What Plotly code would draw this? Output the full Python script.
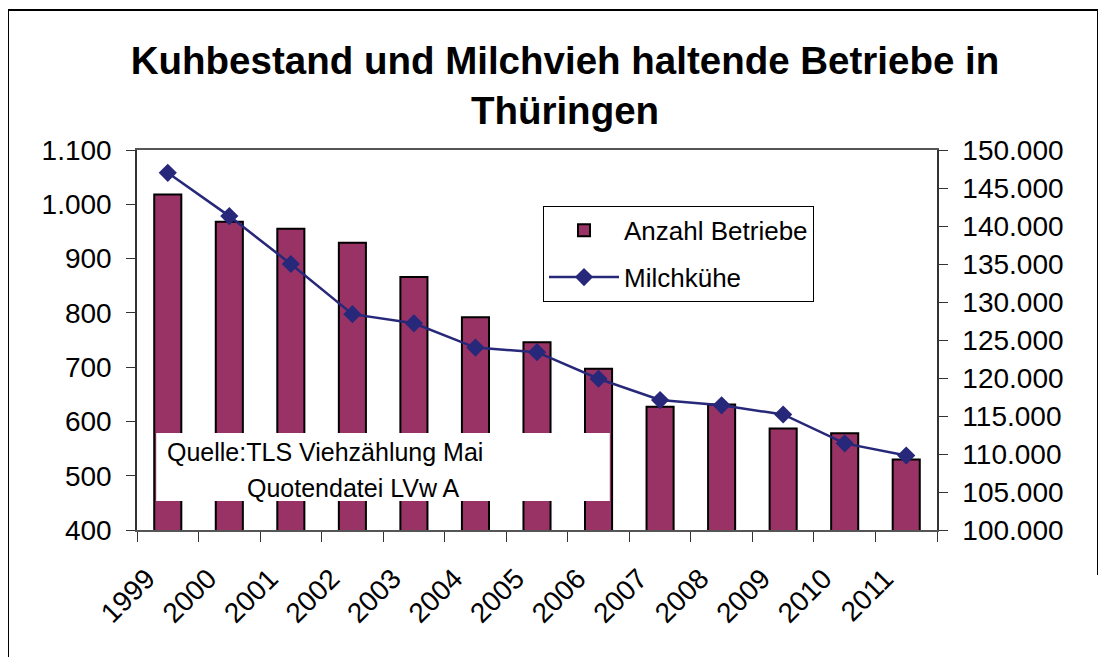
import plotly.graph_objects as go

years = ["1999", "2000", "2001", "2002", "2003", "2004", "2005",
         "2006", "2007", "2008", "2009", "2010", "2011"]
betriebe = [1018, 968, 955, 929, 866, 792, 746, 697, 627, 631, 587, 578, 530]
milchkuehe = [147000, 141300, 135000, 128400, 127200, 124000, 123400,
              119900, 117100, 116400, 115200, 111400, 109800]

left_ticks = [400, 500, 600, 700, 800, 900, 1000, 1100]
right_ticks = [100000, 105000, 110000, 115000, 120000, 125000,
               130000, 135000, 140000, 145000, 150000]

FONT = "Liberation Sans, Arial, sans-serif"
BAR_COLOR = "#993366"
LINE_COLOR = "#27287a"

fig = go.Figure()
fig.add_trace(go.Bar(
    x=years, y=betriebe, name="Anzahl Betriebe",
    marker=dict(color=BAR_COLOR, line=dict(color="black", width=2)),
    width=0.44, yaxis="y", legendgroup="a",
))
fig.add_trace(go.Scatter(
    x=years, y=milchkuehe, name="Milchkühe", mode="lines+markers",
    line=dict(color=LINE_COLOR, width=2.5),
    marker=dict(symbol="diamond", size=14, color=LINE_COLOR),
    yaxis="y2", legendgroup="b",
))

# the page body adds an 8px margin, so the figure is 8px smaller
W, H, OFF = 1098, 649, 8

fig.update_layout(
    width=W, height=H,
    margin=dict(l=129, r=169, t=142, b=127, autoexpand=False),
    paper_bgcolor="white", plot_bgcolor="white",
    separators=",.",
    font=dict(family=FONT, size=28, color="black"),
    showlegend=True,
    title=dict(
        text="<b>Kuhbestand und Milchvieh haltende Betriebe in<br>Thüringen</b>",
        x=(565 - OFF) / W, xanchor="center", y=1 - (74 - OFF) / H, yanchor="middle",
        font=dict(family=FONT, size=38.5, color="black"),
    ),
    legend=dict(
        x=0.5075, y=0.853, xanchor="left", yanchor="top",
        bgcolor="white", bordercolor="black", borderwidth=1,
        font=dict(family=FONT, size=26, color="black"),
        tracegroupgap=10, itemwidth=70,
    ),
    xaxis=dict(
        type="category", range=[-0.5, len(years) - 0.5],
        tickson="boundaries", ticks="outside", ticklen=10,
        tickcolor="#333", tickangle=-45, showgrid=False,
        ticklabelstandoff=19, ticklabelshift=-21,
        showline=True, linecolor="#555", linewidth=2, mirror=True,
        tickfont=dict(family=FONT, size=28),
    ),
    yaxis=dict(
        range=[400, 1100], tickvals=left_ticks, tickformat=",d",
        ticks="outside", ticklen=9, tickcolor="#333", showgrid=False,
        ticklabelstandoff=9,
        showline=True, linecolor="#333", linewidth=1.5, zeroline=False,
        tickfont=dict(family=FONT, size=28),
    ),
    yaxis2=dict(
        range=[100000, 150000], tickvals=right_ticks, tickformat=",d",
        overlaying="y", side="right", anchor="x",
        ticks="outside", ticklen=9, tickcolor="#333", showgrid=False,
        ticklabelstandoff=9,
        showline=True, linecolor="#333", linewidth=1.5, zeroline=False,
        tickfont=dict(family=FONT, size=28),
    ),
    bargap=0.56,
)

# source note box
fig.add_shape(type="rect", xref="paper", yref="paper",
              x0=0.024, x1=0.591, y0=0.076, y1=0.255,
              fillcolor="white", line=dict(width=0), layer="above")
fig.add_annotation(text="Quelle:TLS Viehzählung Mai", xref="paper", yref="paper",
                   x=0.035, y=0.205, xanchor="left", yanchor="middle",
                   showarrow=False, font=dict(family=FONT, size=25, color="black"))
fig.add_annotation(text="Quotendatei LVw A", xref="paper", yref="paper",
                   x=0.27, y=0.11, xanchor="center", yanchor="middle",
                   showarrow=False, font=dict(family=FONT, size=25, color="black"))

# outer chart border (reference pixel positions converted to paper units)
def px(X):
    return (X - 137) / 800


def py(Y):
    return (530 - Y) / 380


fig.add_shape(type="line", xref="paper", yref="paper",
              x0=px(8), x1=px(8), y0=py(657), y1=py(10),
              line=dict(color="black", width=2))
fig.add_shape(type="line", xref="paper", yref="paper",
              x0=px(8), x1=px(1098), y0=py(10), y1=py(10),
              line=dict(color="black", width=2))
fig.add_shape(type="line", xref="paper", yref="paper",
              x0=px(1098), x1=px(1098), y0=py(575), y1=py(10),
              line=dict(color="black", width=2))

fig.write_html("out.html")
